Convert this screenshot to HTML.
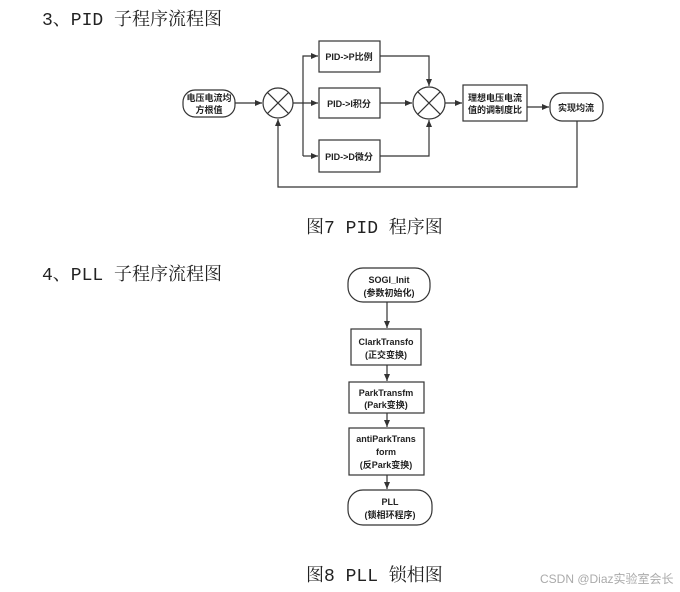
<!DOCTYPE html>
<html><head><meta charset="utf-8"><style>
body{margin:0;background:#fff;width:680px;height:592px;overflow:hidden;position:relative;font-family:"Liberation Mono","Noto Serif CJK SC",serif}
.t{position:absolute;font-size:18px;color:#222;white-space:nowrap}
svg{position:absolute;left:0;top:0}
svg text{font-family:"Liberation Sans","Noto Sans CJK SC",sans-serif;font-size:9px;font-weight:bold;fill:#222;text-anchor:middle}
</style></head><body>
<div class="t" style="left:42px;top:5px">3、PID 子程序流程图</div>
<div class="t" style="left:306px;top:213px">图7 PID 程序图</div>
<div class="t" style="left:42px;top:260px">4、PLL 子程序流程图</div>
<div class="t" style="left:306px;top:561px">图8 PLL 锁相图</div>
<div style="position:absolute;left:540px;top:570px;font:12px 'Liberation Sans','Noto Sans CJK SC',sans-serif;color:#aaa">CSDN @Diaz实验室会长</div>
<svg width="680" height="592">
<defs><marker id="a" markerWidth="8" markerHeight="8" refX="7" refY="4" orient="auto" markerUnits="userSpaceOnUse"><path d="M0,1 L7,4 L0,7z" fill="#333"/></marker></defs>
<g stroke="#333" stroke-width="1.2" fill="none">
<rect x="183" y="90" width="52" height="27" rx="12" fill="#fff"/>
<circle cx="278" cy="103" r="15" fill="#fff"/>
<path d="M267.4,92.4L288.6,113.6M288.6,92.4L267.4,113.6"/>
<circle cx="429" cy="103" r="16" fill="#fff"/>
<path d="M417.7,91.7L440.3,114.3M440.3,91.7L417.7,114.3"/>
<rect x="319" y="41" width="61" height="31" fill="#fff"/>
<rect x="319" y="88" width="61" height="30" fill="#fff"/>
<rect x="319" y="140" width="61" height="32" fill="#fff"/>
<rect x="463" y="85" width="64" height="36" fill="#fff"/>
<rect x="550" y="93" width="53" height="28" rx="12" fill="#fff"/>
<path d="M235,103H262" marker-end="url(#a)"/>
<path d="M293,103H318" marker-end="url(#a)"/>
<path d="M303,156V56H318" marker-end="url(#a)"/>
<path d="M303,156H318" marker-end="url(#a)"/>
<path d="M380,56H429V86" marker-end="url(#a)"/>
<path d="M380,103H412" marker-end="url(#a)"/>
<path d="M380,156H429V120" marker-end="url(#a)"/>
<path d="M445,103H462" marker-end="url(#a)"/>
<path d="M527,107H549" marker-end="url(#a)"/>
<path d="M577,121V187H278V119" marker-end="url(#a)"/>
<rect x="348" y="268" width="82" height="34" rx="15" fill="#fff"/>
<rect x="351" y="329" width="70" height="36" fill="#fff"/>
<rect x="349" y="382" width="75" height="31" fill="#fff"/>
<rect x="349" y="428" width="75" height="47" fill="#fff"/>
<rect x="348" y="490" width="84" height="35" rx="15" fill="#fff"/>
<path d="M387,302V328" marker-end="url(#a)"/>
<path d="M387,365V381" marker-end="url(#a)"/>
<path d="M387,413V427" marker-end="url(#a)"/>
<path d="M387,475V489" marker-end="url(#a)"/>
</g>
<text x="209" y="101">电压电流均</text><text x="209" y="113">方根值</text>
<text x="349" y="60">PID-&gt;P比例</text>
<text x="349" y="107">PID-&gt;I积分</text>
<text x="349" y="160">PID-&gt;D微分</text>
<text x="495" y="101">理想电压电流</text><text x="495" y="113">值的调制度比</text>
<text x="576" y="111">实现均流</text>
<text x="389" y="283">SOGI_Init</text><text x="389" y="296">(参数初始化)</text>
<text x="386" y="345">ClarkTransfo</text><text x="386" y="358">(正交变换)</text>
<text x="386" y="396">ParkTransfm</text><text x="386" y="408">(Park变换)</text>
<text x="386" y="442">antiParkTrans</text><text x="386" y="455">form</text><text x="386" y="468">(反Park变换)</text>
<text x="390" y="505">PLL</text><text x="390" y="518">(锁相环程序)</text>
</svg>
</body></html>
